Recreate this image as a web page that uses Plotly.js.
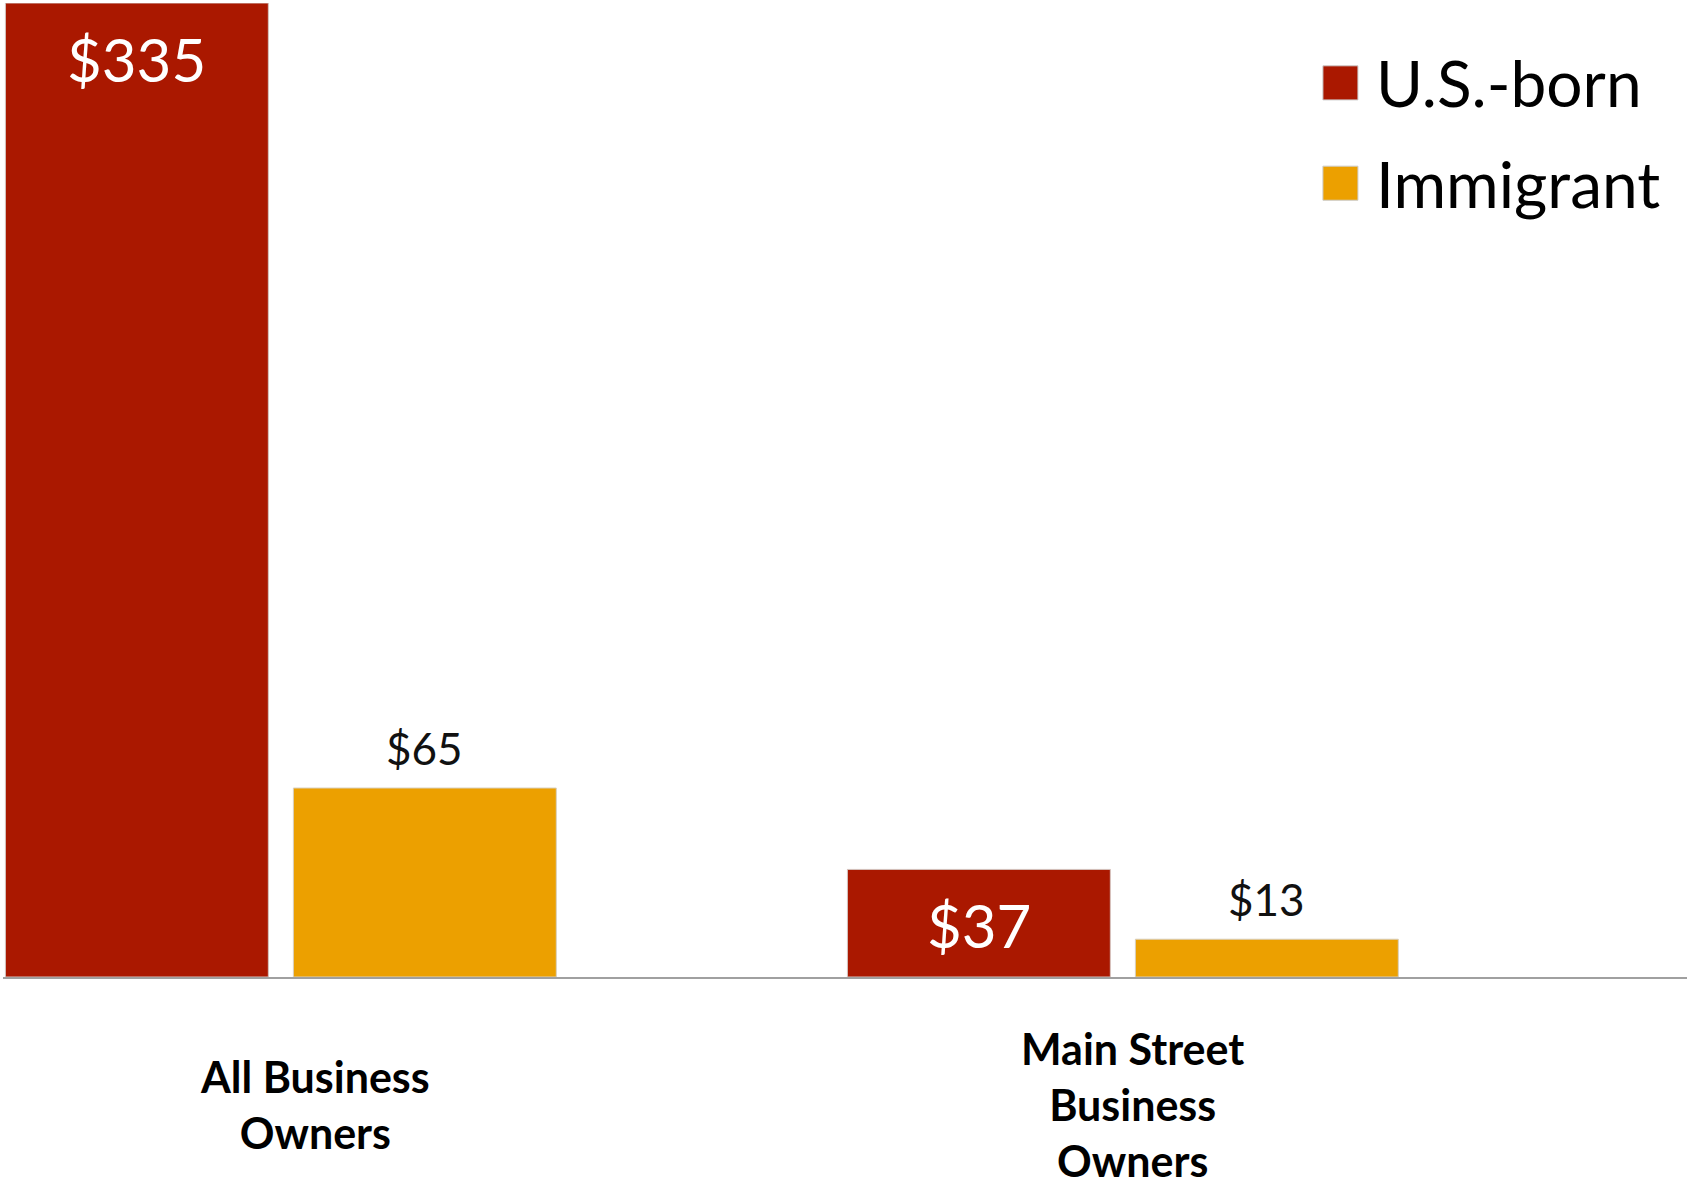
<!DOCTYPE html>
<html>
<head>
<meta charset="utf-8">
<script src="https://cdn.plot.ly/plotly-3.0.1.min.js"></script>
<style>
  html, body { margin: 0; padding: 0; background: #ffffff; }
  #chart { width: 1690px; height: 1190px; }
</style>
</head>
<body>
<div id="chart"></div>
<script>
// categories and series (values in $ billions)
const categories = ['All Business Owners', 'Main Street Business Owners'];
const categoryLines = ['All Business<br>Owners', 'Main Street<br>Business<br>Owners'];
const seriesNames = ['U.S.-born', 'Immigrant'];
const usBorn = [335, 37];
const immigrant = [65, 13];

const seriesColors = ['#AA1800', '#ECA000'];
const fontFamily = 'Lato, "Open Sans", "DejaVu Sans", sans-serif';

const money = v => '$' + v;

const traces = [
    {
        type: 'bar',
        name: seriesNames[0],
        x: categories,
        y: usBorn,
        marker: { color: seriesColors[0], line: { color: '#d4c4c0', width: 1 } },
        showlegend: false,
        hoverinfo: 'x+y'
    },
    {
        type: 'bar',
        name: seriesNames[1],
        x: categories,
        y: immigrant,
        marker: { color: seriesColors[1], line: { color: '#d8d0c0', width: 1 } },
        showlegend: false,
        hoverinfo: 'x+y'
    }
];

const shapes = [];
const annotations = [];

// value labels: white inside the top of the red bars, black above the orange ones
// (bar slot is half the group: 144px either side of the category centre)
const barOffset = 144;
categories.forEach((cat, i) => {
    annotations.push({
        xref: 'x', yref: 'y', x: cat, y: usBorn[i],
        xanchor: 'center', yanchor: 'top', showarrow: false,
        xshift: -barOffset, yshift: -18,
        text: money(usBorn[i]),
        font: { family: fontFamily, size: 60, color: '#ffffff' }
    });
    annotations.push({
        xref: 'x', yref: 'y', x: cat, y: immigrant[i],
        xanchor: 'center', yanchor: 'bottom', showarrow: false,
        xshift: barOffset, yshift: 12,
        text: money(immigrant[i]),
        font: { family: fontFamily, size: 44, color: '#111111' }
    });
});

// hand-built legend: large squares + labels in the top right corner
seriesNames.forEach((name, i) => {
    const yc = 0.918 - i * 0.103;
    shapes.push({
        type: 'rect', xref: 'paper', yref: 'paper',
        x0: 0.7838, x1: 0.8046, y0: yc - 0.0175, y1: yc + 0.0175,
        fillcolor: seriesColors[i], line: { color: '#cccccc', width: 1 }
    });
    annotations.push({
        xref: 'paper', yref: 'paper', x: 0.814, y: yc,
        xanchor: 'left', yanchor: 'middle', showarrow: false,
        text: name,
        font: { family: fontFamily, size: 64, color: '#000000' }
    });
});

// category labels under the axis, centred vertically on a common line
categories.forEach((cat, i) => {
    annotations.push({
        xref: 'x', yref: 'paper', x: cat, y: -0.1304,
        xanchor: 'center', yanchor: 'middle', showarrow: false,
        xshift: i === 0 ? 34 : 10,
        borderpad: 0,
        text: '<b>' + categoryLines[i] + '</b>',
        align: 'center',
        font: { family: fontFamily, size: 43, color: '#000000' }
    });
});

const layout = {
    width: 1690,
    height: 1190,
    autosize: false,
    margin: { l: 3, r: 3, t: 3, b: 213 },
    paper_bgcolor: '#ffffff',
    plot_bgcolor: '#ffffff',
    barmode: 'group',
    bargap: 0.316,
    bargroupgap: 0.087,
    showlegend: false,
    font: { family: fontFamily, color: '#000000' },
    xaxis: {
        type: 'category',
        range: [-0.33, 1.67],
        showticklabels: false,
        ticks: '',
        showgrid: false,
        zeroline: false,
        showline: true,
        linecolor: '#a0a0a0',
        linewidth: 2
    },
    yaxis: {
        range: [0, 335],
        visible: false,
        showgrid: false,
        zeroline: false
    },
    shapes: shapes,
    annotations: annotations
};

Plotly.newPlot('chart', traces, layout, { displayModeBar: false, staticPlot: true });
</script>
</body>
</html>
